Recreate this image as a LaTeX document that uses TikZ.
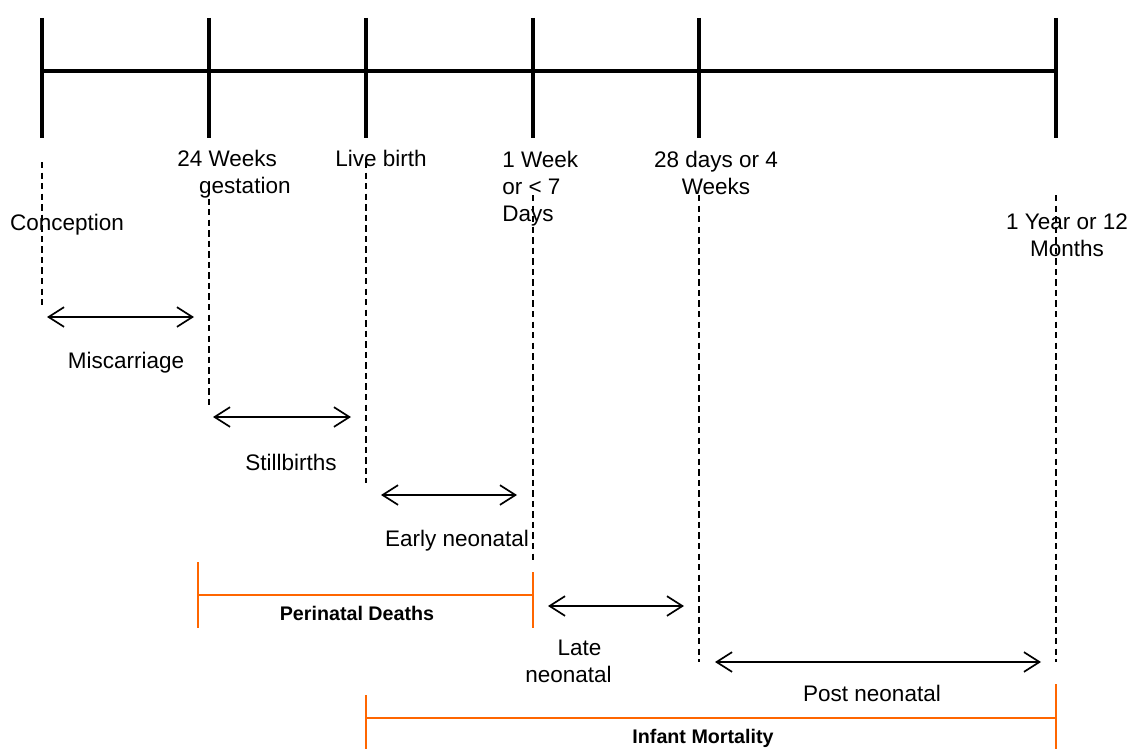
\documentclass[tikz,border=0pt]{standalone}
\usepackage{fontspec}
\setmainfont{Liberation Sans}
\usepackage{xcolor}
\usetikzlibrary{arrows.meta,positioning}
\definecolor{bracketorange}{RGB}{255,102,0}
\tikzset{>={Straight Barb[length=11pt,width=14pt]}}

\begin{document}
\begin{tikzpicture}[x=0.025cm,y=-0.025cm,
  every node/.style={inner sep=0pt,anchor=north,font=\fontsize{16}{19.2}\selectfont},
  tick/.style={line width=2.8pt},
  guide/.style={line width=1.1pt,dash pattern=on 4.5pt off 3pt},
  span/.style={<->,line width=1.2pt},
  bracket/.style={bracketorange,line width=1pt},
  bracketlabel/.style={font=\fontsize{14}{16.8}\selectfont\bfseries}]
\useasboundingbox (0,0) rectangle (1131,749);

% time line and ticks
\draw[tick] (42,71) -- (1056,71);
\foreach \x in {42,209,366,533,699,1056} {
\draw[tick] (\x,18) -- (\x,138);
};

% dashed guides
\foreach \x/\a/\b in {42/162/305,209/188/407,366/162/483,533/195/562,699/195/662,1056/195/662} {
\draw[guide] (\x,\a) -- (\x,\b);
};

% time points
\node (conception) at (67,214) {Conception};
\node[anchor=north west,align=left] (gestation) at (177,150) {24 Weeks\\\hspace*{15.6pt}gestation};
\node (livebirth) at (381,150) {Live birth};
\node[anchor=north west,align=left] (week) at (502,151) {1 Week\\or < 7\\Days};
\node[align=center] (days) at (716,151) {28 days or 4\\Weeks};
\node[align=center] (year) at (1067,214) {1 Year or 12\\Months};

% periods
\draw[span] (47,317) -- (194,317);
\node (miscarriage) at (126,352) {Miscarriage};
\draw[span] (213,417) -- (351,417);
\node (stillbirths) at (291,454) {Stillbirths};
\draw[span] (381,495) -- (517,495);
\node (early) at (457,530) {Early neonatal};
\draw[span] (548,606) -- (684,606);
\node[anchor=north west,align=left] (late) at (525,640) {\hspace*{23pt}Late\\neonatal};
\draw[span] (715,662) -- (1041,662);
\node (post) at (872,685) {Post neonatal};

% orange brackets
\draw[bracket] (198,562) -- (198,628) (533,572) -- (533,628) (198,595) -- (533,595);
\node[bracketlabel] (perinatal) at (357,606) {Perinatal Deaths};
\draw[bracket] (366,695) -- (366,749) (1056,684) -- (1056,749) (366,718) -- (1056,718);
\node[bracketlabel] (infant) at (703,729) {Infant Mortality};
\end{tikzpicture}
\end{document}
